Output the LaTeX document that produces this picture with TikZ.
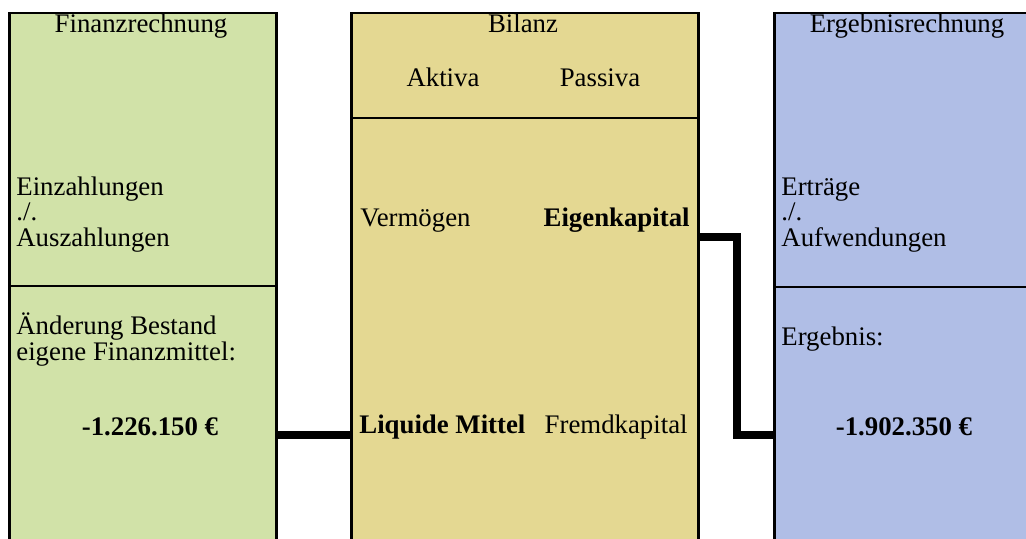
\documentclass[tikz,border=0pt]{standalone}
\usepackage{fontspec}
\setmainfont{Liberation Serif}
\usetikzlibrary{positioning}

\definecolor{fingreen}{RGB}{209,226,168}
\definecolor{bilyellow}{RGB}{228,216,146}
\definecolor{ergblue}{RGB}{176,190,230}

\begin{document}
\begin{tikzpicture}[
    x=0.5pt, y=-0.5pt,
    panel/.style={rectangle,draw,line width=1.25pt,anchor=north west,inner sep=0pt,minimum height=290pt},
    txt/.style={inner sep=0pt,font=\fontsize{13.4}{12.8}\selectfont},
    link/.style={line width=4.3pt,line join=miter}
]
\clip (0,0) rectangle (1026,539);

% Panels
\node[panel, fill=fingreen, minimum width=133.5pt] (fin) at (8,12) {};
\node[panel, fill=bilyellow, minimum width=173.5pt] (bil) at (350,12) {};
\node[panel, fill=ergblue, minimum width=160pt] (erg) at (773,12) {};

% Separators
\draw[line width=1.25pt] (fin.west |- 0,286) -- (fin.east |- 0,286);
\draw[line width=1.25pt] (bil.west |- 0,118) -- (bil.east |- 0,118);
\draw[line width=1.25pt] (erg.west |- 0,287) -- (erg.east |- 0,287);

% Finanzrechnung
\node[txt, anchor=base] (fintitle) at (141,33) {Finanzrechnung};
\node[txt, anchor=base west] (finflow1) at (16,196) {Einzahlungen};
\node[txt, anchor=base west] (finflow2) at (16,221) {./.};
\node[txt, anchor=base west] (finflow3) at (16,247) {Auszahlungen};
\node[txt, anchor=base west] (finchg1) at (16,335) {Änderung Bestand};
\node[txt, anchor=base west] (finchg2) at (16,360) {eigene Finanzmittel:};
\node[txt, anchor=base, font=\fontsize{13.4}{12.8}\selectfont\bfseries] (finval) at (150,435) {-1.226.150 €};

% Bilanz
\node[txt, anchor=base] (biltitle) at (523,33) {Bilanz};
\node[txt, anchor=base] (aktiva) at (443,87) {Aktiva};
\node[txt, anchor=base] (passiva) at (600,87) {Passiva};
\node[txt, anchor=base west] (vermoegen) at (360,227) {Vermögen};
\node[txt, anchor=base east, font=\fontsize{13.4}{12.8}\selectfont\bfseries] (eigenkap) at (690,227) {Eigenkapital};
\node[txt, anchor=base west, font=\fontsize{13.4}{12.8}\selectfont\bfseries] (liquide) at (359,433) {Liquide Mittel};
\node[txt, anchor=base east] (fremdkap) at (688,433) {Fremdkapital};

% Ergebnisrechnung
\node[txt, anchor=base] (ergtitle) at (907,33) {Ergebnisrechnung};
\node[txt, anchor=base west] (ergflow1) at (781,196) {Erträge};
\node[txt, anchor=base west] (ergflow2) at (781,221) {./.};
\node[txt, anchor=base west] (ergflow3) at (781,247) {Aufwendungen};
\node[txt, anchor=base west] (ergres) at (781,345) {Ergebnis:};
\node[txt, anchor=base, font=\fontsize{13.4}{12.8}\selectfont\bfseries] (ergval) at (904,435) {-1.902.350 €};

% Connections
\draw[link] (fin.east |- 0,435) -- (bil.west |- 0,435);
\draw[link] (bil.east |- 0,237) -| (737,435) -- (erg.west |- 0,435);

\end{tikzpicture}
\end{document}
